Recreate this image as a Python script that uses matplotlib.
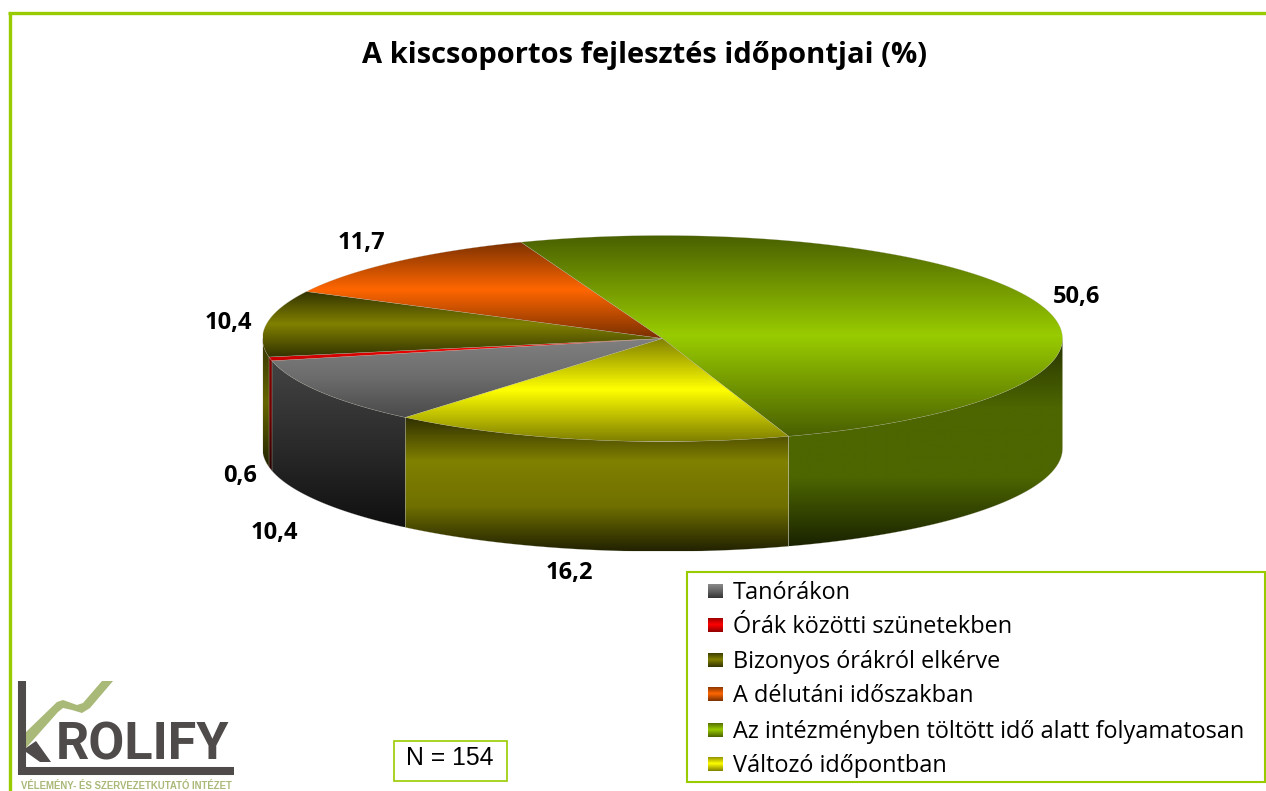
import numpy as np
import matplotlib
matplotlib.use("Agg")
import matplotlib.pyplot as plt
from matplotlib.colors import to_rgb
from matplotlib.path import Path
from matplotlib.patches import PathPatch, Rectangle

# data
categories = ["Tanórákon", "Órák közötti szünetekben", "Bizonyos órákról elkérve",
              "A délutáni időszakban", "Az intézményben töltött idő alatt folyamatosan",
              "Változó időpontban"]
values = [10.4, 0.6, 10.4, 11.7, 50.6, 16.2]
title = "A kiscsoportos fejlesztés időpontjai (%)"
n_label = "N = 154"

# gradient stops, evenly spaced from the top of the shape to the bottom
top_colors = [("#808080", "#6c6c6c", "#4a4a4a"), ("#ff0000", "#f00000", "#c00000"),
              ("#333300", "#808000", "#333300"), ("#7a3000", "#ff6600", "#7a3000"),
              ("#4a6000", "#99cc00", "#4a6000"), ("#808000", "#ffff00", "#808000")]
side_colors = [("#444444", "#2b2b2b", "#101010"), ("#800000", "#700000", "#200000"),
               ("#333300", "#666600", "#222200"), ("#7a3000", "#7a3000", "#331400"),
               ("#263300", "#4d6600", "#4d6600", "#1a2300"),
               ("#2e2e00", "#808000", "#707000", "#222200")]
legend_colors = [("#909090", "#666666", "#333333"), ("#900000", "#ff0000", "#900000"),
                 ("#333300", "#808000", "#333300"), ("#7a3000", "#ff6600", "#7a3000"),
                 ("#4a6000", "#99cc00", "#4a6000"), ("#808000", "#ffff00", "#808000")]

# label positions in pixels, same order as values
label_xy = [(274, 532), (240, 475), (228, 322), (361, 242), (1076, 296), (569, 572)]

legend_y = [591, 625, 660, 694, 730, 764]

LINE = "#99cc00"
cx, cy, rx, ry, depth = 662.5, 338.5, 400, 103, 110
start_angle = 230.0


def ell(theta, dy=0):
    t = np.radians(theta)
    return cx + rx * np.cos(t), cy - ry * np.sin(t) + dy


def grad_fill(ax, xs, ys, stops, z, edge=True):
    verts = np.column_stack([np.append(xs, xs[0]), np.append(ys, ys[0])])
    patch = PathPatch(Path(verts, closed=True), transform=ax.transData, fc="none", ec="none")
    pos = np.linspace(0, 1, 256)
    rgb = np.array([to_rgb(c) for c in stops])
    where = np.linspace(0, 1, len(stops))
    arr = np.stack([np.interp(pos, where, rgb[:, i]) for i in range(3)], axis=1)[:, None, :]
    im = ax.imshow(arr, extent=(xs.min(), xs.max(), ys.max(), ys.min()), aspect="auto",
                   interpolation="bilinear", zorder=z)
    im.set_clip_path(patch)
    if edge:
        ax.plot(verts[:, 0], verts[:, 1], color="#b0b0a0", lw=0.3, alpha=0.5, zorder=z + 0.1)


fig = plt.figure(figsize=(12.66, 7.91), dpi=100)
ax = fig.add_axes([0, 0, 1, 1])
ax.axis("off")

# page frame
ax.plot([9.5, 9.5], [791, 13], color=LINE, lw=2.4, solid_capstyle="butt")
ax.plot([8, 1266], [13, 13], color=LINE, lw=2.4, solid_capstyle="butt")

ax.text(644, 56, title, fontsize=21, fontweight="bold", family="Open Sans", ha="center", va="center")

# pie
shares = np.array(values) / sum(values) * 360
hi_angles = start_angle - np.concatenate([[0], np.cumsum(shares)[:-1]])
lo_angles = hi_angles - shares

for i in range(len(values)):
    for k in (0, -360):
        a = max(lo_angles[i], 180 + k)
        b = min(hi_angles[i], 360 + k)
        if b > a:
            th = np.linspace(a, b, 60)
            x1, y1 = ell(th)
            x2, y2 = ell(th[::-1], depth)
            grad_fill(ax, np.concatenate([x1, x2]), np.concatenate([y1, y2]), side_colors[i], 2)

for i in range(len(values)):
    th = np.linspace(lo_angles[i], hi_angles[i], 120)
    x1, y1 = ell(th)
    grad_fill(ax, np.append(x1, cx), np.append(y1, cy), top_colors[i], 3)

for v, (x, y) in zip(values, label_xy):
    ax.text(x, y + 1, f"{v:.1f}".replace(".", ","), fontsize=17, fontweight="bold",
            family="Open Sans", ha="center", va="center", zorder=5)

# legend
ax.add_patch(Rectangle((686.5, 571.5), 578, 210, fc="white", ec=LINE, lw=1.5, zorder=4))
for name, stops, y in zip(categories, legend_colors, legend_y):
    sx = np.array([708.0, 723.0, 723.0, 708.0])
    sy = np.array([y - 7.5, y - 7.5, y + 7.5, y + 7.5])
    grad_fill(ax, sx, sy, stops, 5, edge=False)
    ax.text(733, y + 2, name, fontsize=16.9, family="Open Sans", va="center", zorder=5)

# N box
ax.add_patch(Rectangle((393.5, 740.5), 113, 40, fc="white", ec=LINE, lw=1.2, zorder=4))
ax.text(449.5, 758, n_label, fontsize=17.8, family="Liberation Sans", ha="center", va="center", zorder=5)

# logo
GREY = "#4f4b4a"
SAGE = "#a9b978"
swoosh_x = [26, 57, 63, 77, 83, 102, 113, 90, 82, 72, 63, 58, 26]
swoosh_y = [732, 702, 700, 705, 703, 681, 681, 708, 713, 710, 708, 712, 748]
ax.fill(swoosh_x, swoosh_y, color=SAGE, lw=0, zorder=6)
ax.plot([22, 22], [681, 771], color=GREY, lw=5.8, solid_capstyle="butt", zorder=7)
ax.plot([18, 234], [771, 771], color=GREY, lw=5.8, solid_capstyle="butt", zorder=7)
ax.fill([26, 36, 51, 40, 26], [748, 741, 762, 762, 752], color=GREY, lw=0, zorder=7)
ax.text(142.5, 745, "ROLIFY", fontsize=37.5, fontweight="bold", family="Roboto", color=GREY,
        ha="center", va="center", zorder=7)
ax.text(126, 786, "VÉLEMÉNY- ÉS SZERVEZETKUTATÓ INTÉZET", fontsize=6.9, family="Liberation Sans",
        fontweight="bold", color=SAGE, ha="center", va="center", zorder=7)

ax.set_xlim(0, 1266)
ax.set_ylim(791, 0)

fig.savefig("out.png", dpi=100)
